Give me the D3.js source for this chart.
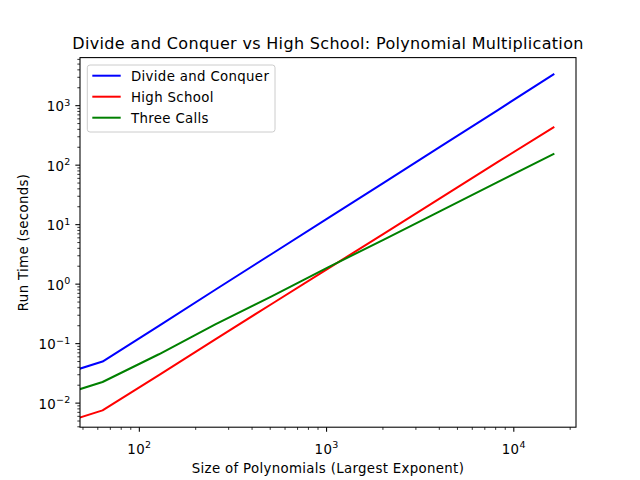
<!DOCTYPE html>
<html>
<head>
<meta charset="utf-8">
<script src="https://cdn.jsdelivr.net/npm/d3@7"></script>
<style>
body { margin: 0; background: #fff; }
svg text { font-family: "DejaVu Sans", sans-serif; fill: #000; letter-spacing: 0.33px; }
</style>
</head>
<body>
<div id="chart"></div>
<script>
// run times, size 0 is the empty run (0 seconds)
var sizes = [0, 64, 128, 256, 512, 1024, 2048, 4096, 8192, 16384];
var divideAndConquer = [0, 0.049, 0.195, 0.79, 3.15, 12.6, 50.5, 203, 812, 3290];
var highSchool = [0, 0.0074, 0.029, 0.116, 0.455, 1.79, 7.0, 27.6, 109, 424];
var threeCalls = [0, 0.0222, 0.065, 0.207, 0.61, 1.88, 5.55, 16.7, 50.4, 151];
var seriesNames = ["Divide and Conquer", "High School", "Three Calls"];
var xTickExponents = [2, 3, 4];
var yTickExponents = [-2, -1, 0, 1, 2, 3];

var colors = ["#0000ff", "#ff0000", "#008000"];

var width = 640, height = 480;
var margin = {left: 80, top: 57.6, right: 64, bottom: 52.8};
var plotW = width - margin.left - margin.right,
    plotH = height - margin.top - margin.bottom;

// log axes ignore values <= 0 when picking limits, with 5% padding in log space
function logLimits(vals) {
    var pos = vals.filter(function (v) { return v > 0; });
    var lo = Math.log10(d3.min(pos)), hi = Math.log10(d3.max(pos));
    var pad = (hi - lo) * 0.05;
    return [Math.pow(10, lo - pad), Math.pow(10, hi + pad)];
}
// nonpositive values get clipped to a tiny number instead of dropped
function clipPos(v) {
    return v > 0 ? v : 1e-300;
}

var allTimes = divideAndConquer.concat(highSchool, threeCalls);

var x = d3.scaleLog().domain(logLimits(sizes)).range([0, plotW]);
var y = d3.scaleLog().domain(logLimits(allTimes)).range([plotH, 0]);

var svg = d3.select("#chart")
    .append("svg")
    .attr("width", width)
    .attr("height", height);

svg.append("defs").append("clipPath")
    .attr("id", "plot-clip")
    .append("rect")
    .attr("width", plotW)
    .attr("height", plotH);

var g = svg.append("g")
    .attr("transform", "translate(" + margin.left + "," + margin.top + ")");

var series = [divideAndConquer, highSchool, threeCalls].map(function (vals, i) {
    return {
        name: seriesNames[i],
        color: colors[i],
        points: sizes.map(function (s, j) { return [s, vals[j]]; })
    };
});

var line = d3.line()
    .x(function (d) { return x(clipPos(d[0])); })
    .y(function (d) { return y(clipPos(d[1])); });

g.append("g")
    .attr("clip-path", "url(#plot-clip)")
    .selectAll("path")
    .data(series)
    .enter()
    .append("path")
    .attr("d", function (d) { return line(d.points); })
    .attr("fill", "none")
    .attr("stroke", function (d) { return d.color; })
    .attr("stroke-width", 2)
    .attr("stroke-linejoin", "round")
    .attr("stroke-linecap", "square");

// minor ticks at 2..9 of every decade inside the domain
function minorTicks(scale) {
    var dom = scale.domain(), out = [];
    var a = Math.floor(Math.log10(dom[0])), b = Math.ceil(Math.log10(dom[1]));
    for (var e = a; e <= b; e++) {
        for (var k = 2; k <= 9; k++) {
            var v = k * Math.pow(10, e);
            if (v >= dom[0] && v <= dom[1]) out.push(v);
        }
    }
    return out;
}

function superscriptLabels(sel, exps, baseDy) {
    sel.selectAll(".tick text").each(function (d, i) {
        var t = d3.select(this);
        t.text(null).attr("dy", baseDy);
        t.append("tspan").text("10");
        t.append("tspan")
            .attr("font-size", "9.5px")
            .attr("dy", "-5.7")
            .text(String(exps[i]).replace("-", "\u2212"));
    });
}

var xMinor = g.append("g")
    .attr("transform", "translate(0," + plotH + ")")
    .call(d3.axisBottom(x).tickValues(minorTicks(x)).tickSize(2.67).tickFormat(""));
var yMinor = g.append("g")
    .call(d3.axisLeft(y).tickValues(minorTicks(y)).tickSize(2.67).tickFormat(""));

var xAxis = g.append("g")
    .attr("transform", "translate(0," + plotH + ")")
    .call(d3.axisBottom(x)
        .tickValues(xTickExponents.map(function (e) { return Math.pow(10, e); }))
        .tickSize(4.67)
        .tickFormat(function () { return "10"; }));
xAxis.selectAll(".tick text").attr("y", 26.4);
superscriptLabels(xAxis, xTickExponents, "0");

var yAxis = g.append("g")
    .call(d3.axisLeft(y)
        .tickValues(yTickExponents.map(function (e) { return Math.pow(10, e); }))
        .tickSize(4.67)
        .tickPadding(4.67)
        .tickFormat(function () { return "10"; }));
superscriptLabels(yAxis, yTickExponents, "5.7");

[xMinor, yMinor, xAxis, yAxis].forEach(function (a) {
    a.select(".domain").remove();
    a.selectAll(".tick line").attr("stroke", "#000");
    a.selectAll("text").attr("font-size", "13.33px").attr("fill", "#000")
        .attr("font-family", "DejaVu Sans, sans-serif");
});
xMinor.selectAll(".tick line").attr("stroke-width", 0.8);
yMinor.selectAll(".tick line").attr("stroke-width", 0.8);
xAxis.selectAll(".tick line").attr("stroke-width", 1.07);
yAxis.selectAll(".tick line").attr("stroke-width", 1.07);

// spines
g.append("rect")
    .attr("width", plotW)
    .attr("height", plotH)
    .attr("fill", "none")
    .attr("stroke", "#000")
    .attr("stroke-width", 1.07);

// legend
var legend = svg.append("g").attr("transform", "translate(87.3,65)");
legend.append("rect")
    .attr("width", 187.7)
    .attr("height", 67)
    .attr("rx", 2.7)
    .attr("fill", "#fff")
    .attr("fill-opacity", 0.8)
    .attr("stroke", "#cccccc")
    .attr("stroke-width", 1);

var item = legend.selectAll(".item")
    .data(series)
    .enter()
    .append("g")
    .attr("class", "item")
    .attr("transform", function (d, i) { return "translate(0," + (10.7 + i * 21) + ")"; });
item.append("line")
    .attr("x1", 5)
    .attr("x2", 33.4)
    .attr("stroke", function (d) { return d.color; })
    .attr("stroke-width", 2);
item.append("text")
    .attr("x", 43.7)
    .attr("y", 4.8)
    .attr("font-size", "13.33px")
    .text(function (d) { return d.name; });

// titles
svg.append("text")
    .attr("x", margin.left + plotW / 2)
    .attr("y", 49)
    .attr("text-anchor", "middle")
    .attr("font-size", "16px")
    .text("Divide and Conquer vs High School: Polynomial Multiplication");

svg.append("text")
    .attr("x", margin.left + plotW / 2)
    .attr("y", 473)
    .attr("text-anchor", "middle")
    .attr("font-size", "13.33px")
    .text("Size of Polynomials (Largest Exponent)");

svg.append("text")
    .attr("transform", "translate(28," + (margin.top + plotH / 2) + ") rotate(-90)")
    .attr("text-anchor", "middle")
    .attr("font-size", "13.33px")
    .text("Run Time (seconds)");
</script>
</body>
</html>
